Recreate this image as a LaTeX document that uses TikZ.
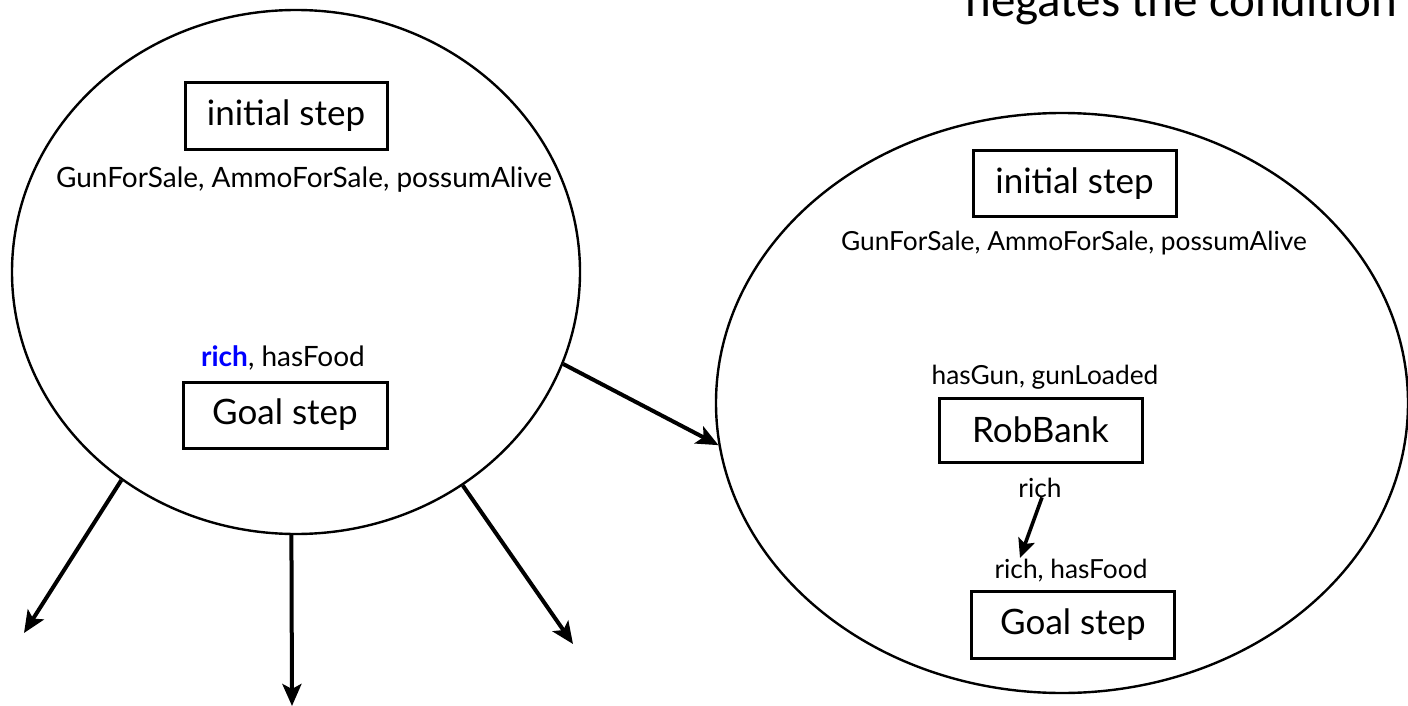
\documentclass[tikz,border=0pt]{standalone}
\usepackage{fontspec}
\setmainfont{Lato}
\newfontfamily\calib{Carlito}
\usetikzlibrary{shapes.geometric,arrows.meta,calc}
\begin{document}
\begin{tikzpicture}[x=1pt,y=-1pt,
  oval/.style={ellipse,draw,line width=2.4pt,inner sep=0pt},
  stepbox/.style={draw,line width=3pt,inner sep=0pt,
    minimum width=203pt,minimum height=66pt,
    font=\fontsize{35}{37}\selectfont},
  cond/.style={inner sep=0pt,anchor=base,font=\fontsize{26.3}{28}\selectfont},
  bigcond/.style={cond,font=\fontsize{28}{30}\selectfont},
  link/.style={line width=4pt,-{Stealth[length=22pt,width=19pt,inset=5pt]}},
  small link/.style={line width=3.6pt,-{Stealth[length=19pt,width=17pt,inset=4pt]}}
]
\useasboundingbox (0,0) rectangle (1408,706);
\clip (0,0) rectangle (1408,706);

% caption line running off the top edge
\node[inner sep=0pt,anchor=base east,font=\calib\fontsize{49}{51}\selectfont]
  (caption) at (1397,17) {negates the condition};

% left plan: initial and goal steps only
\node[oval,minimum width=568pt,minimum height=524pt] (L) at (296,272) {};
\node[stepbox,minimum width=202pt,minimum height=67pt] (Linit) at (286,116) {initial step};
\node[bigcond] (Leff) at (304,187) {GunForSale, AmmoForSale, possumAlive};
\node[bigcond] (Lpre) at (283,366) {\textcolor{blue}{\textbf{rich}}, hasFood};
\node[stepbox,minimum width=204pt,minimum height=66pt] (Lgoal) at (285,415) {Goal step};

% successor plans
\coordinate (s1) at (24,633);
\coordinate (s2) at (292,706);
\coordinate (s3) at (573,644);
\draw[link] (L.230.6) -- (s1);
\draw[link] (L.269.6) -- (s2);
\draw[link] (L.-52.2) -- (s3);

% right plan: RobBank added
\node[oval,minimum width=692pt,minimum height=580pt] (R) at (1062,403) {};
\node[stepbox] (Rinit) at (1074.5,183.5) {initial step};
\node[cond] (Reff) at (1074,250) {GunForSale, AmmoForSale, possumAlive};
\node[cond] (Rpre) at (1045,384) {hasGun, gunLoaded};
\node[stepbox,minimum height=64pt] (Rob) at (1040.5,430) {RobBank};
\node[cond] (Radd) at (1040,497) {rich};
\node[cond] (Rgpre) at (1071,578) {rich, hasFood};
\node[stepbox,minimum height=67pt] (Rgoal) at (1073,624.5) {Goal step};
\coordinate (tip) at (1020,558);
\draw[small link] ($(Radd.south)+(2,0)$) -- (tip);

% refinement arrow between the plans
\draw[link] (L.-19.7) -- (R.187.4);
\end{tikzpicture}
\end{document}
